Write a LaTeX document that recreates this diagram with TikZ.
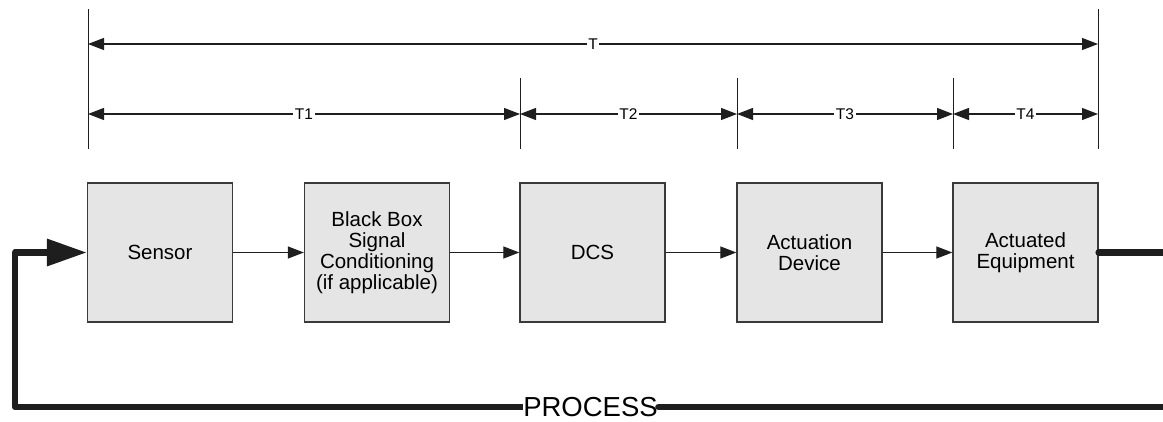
\documentclass[tikz,border=0pt]{standalone}
\usepackage{fontspec}
\setmainfont{Liberation Sans}
\usetikzlibrary{arrows.meta}
\definecolor{ink}{HTML}{1E1E1E}
\definecolor{boxline}{HTML}{3A3A3A}
\definecolor{boxfill}{HTML}{E5E5E5}
\begin{document}
\begin{tikzpicture}[x=1pt,y=-1pt,
  blk/.style={draw=boxline, fill=boxfill, line width=1.3pt, minimum width=145pt, minimum height=139pt, align=center, font=\fontsize{20.5}{21}\selectfont, inner sep=0pt},
  flow/.style={draw=ink, line width=1.2pt, -{Triangle[length=16pt,width=12pt]}},
  dimline/.style={draw=ink, line width=1.2pt, {Triangle[length=16pt,width=12pt]}-{Triangle[length=16pt,width=12pt]}},
  extline/.style={draw=ink, line width=0.9pt},
  lbl/.style={fill=white, inner sep=1.5pt, font=\fontsize{15.5}{15.5}\selectfont},
  procline/.style={draw=ink, line width=6.5pt},
]
\clip (0,0) rectangle (1163,421);

% boxes
\node[blk] (sensor) at (160,252.5) {Sensor};
\node[blk] (bbox)   at (377,252.5) {Black Box\\Signal\\Conditioning\\(if applicable)};
\node[blk] (dcs)    at (592.5,252.5) {DCS};
\node[blk] (actdev) at (809.5,252.5) {Actuation\\Device};
\node[blk] (equip)  at (1025.5,252.5) {Actuated\\Equipment};

% connectors
\draw[flow] (sensor.east) -- (bbox.west);
\draw[flow] (bbox.east) -- (dcs.west);
\draw[flow] (dcs.east) -- (actdev.west);
\draw[flow] (actdev.east) -- (equip.west);

% extension lines
\coordinate (x0t) at (88,9);    \coordinate (x0b) at (88,149);
\coordinate (x1t) at (520,78);  \coordinate (x1b) at (520,149);
\coordinate (x2t) at (737,78);  \coordinate (x2b) at (737,149);
\coordinate (x3t) at (953,78);  \coordinate (x3b) at (953,149);
\coordinate (x4t) at (1098,9);  \coordinate (x4b) at (1098,149);
\foreach \i in {0,...,4} {\draw[extline] (x\i t) -- (x\i b);}

% dimension lines
\coordinate (T0) at (88,44);  \coordinate (T5) at (1098,44);
\coordinate (d0) at (88,114); \coordinate (d1) at (520,114);
\coordinate (d2) at (737,114); \coordinate (d3) at (953,114);
\coordinate (d4) at (1098,114);
\draw[dimline] (T0) -- node[lbl] (lT) {T} (T5);
\draw[dimline] (d0) -- node[lbl] (lT1) {T1} (d1);
\draw[dimline] (d1) -- node[lbl] (lT2) {T2} (d2);
\draw[dimline] (d2) -- node[lbl] (lT3) {T3} (d3);
\draw[dimline] (d3) -- node[lbl] (lT4) {T4} (d4);

% process loop
\node[inner sep=0.5pt, font=\fontsize{27.5}{28}\selectfont] (pr) at (590.5,407) {PROCESS};
\coordinate (R1) at (1180,252.5);
\coordinate (R2) at (1180,407);
\coordinate (L1) at (15,407);
\coordinate (L2) at (15,252.5);
\draw[procline, line cap=round] (equip.east) -- (R1) -- (R2) -- (pr.east);
\draw[procline, line join=round, -{Triangle[length=40pt,width=26pt]}] (pr.west) -- (L1) -- (L2) -- (sensor.west);
\end{tikzpicture}
\end{document}
